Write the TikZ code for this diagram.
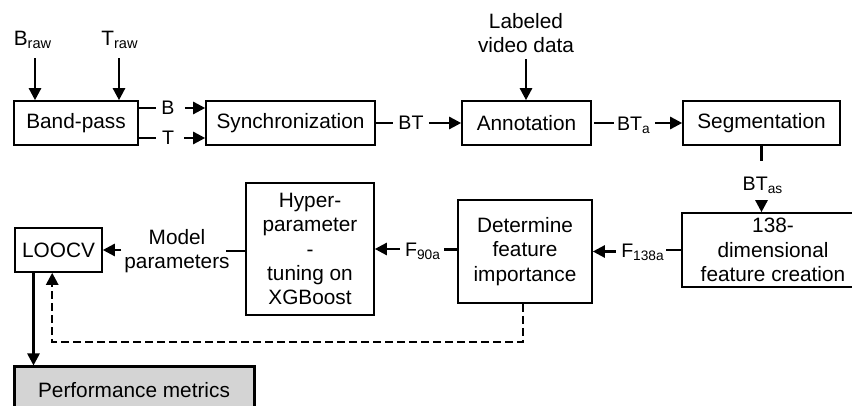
\documentclass[tikz,border=0pt]{standalone}
\usepackage{fontspec}
\setmainfont{Liberation Sans}
\usetikzlibrary{arrows.meta}
\begin{document}
\begin{tikzpicture}[x=0.5pt,y=-0.5pt,
  font=\fontsize{10.4}{12.2}\selectfont,
  box/.style={draw, line width=0.8pt, align=center, inner sep=0pt, minimum height=22pt},
  lbl/.style={inner sep=0pt, align=center},
  small/.style={lbl, font=\fontsize{9.8}{11.5}\selectfont},
  conn/.style={line width=1.25pt},
  arr/.style={line width=1.25pt, -{Triangle[length=6pt,width=6pt]}},
  feedback/.style={line width=1.25pt, dash pattern=on 4pt off 2pt, -{Triangle[length=6pt,width=6pt]}}]
\useasboundingbox (0,0) rectangle (852,406);
\clip (0,0) rectangle (852,406);

% processing chain, top row
\node[box, minimum width=62pt] (bp) at (76,123) {Band-pass};
\node[box, minimum width=84.5pt] (sync) at (290.5,123) {Synchronization};
\node[box, minimum width=64.5pt] (ann) at (526.5,123) {Annotation};
\node[box, minimum width=78.5pt] (seg) at (761.5,123) {Segmentation};

% inputs
\node[lbl] (braw) at (33,40) {B\textsubscript{raw}};
\node[lbl] (traw) at (120,40) {T\textsubscript{raw}};
\node[lbl] (video) at (526,33) {Labeled\\video data};
\draw[arr] (braw.south) ++(2,9) coordinate (bin) -- (bin |- bp.north);
\draw[arr] (traw.south) ++(-1,9) coordinate (tin) -- (tin |- bp.north);
\draw[arr] (video.south) ++(0,6) coordinate (vin) -- (vin |- ann.north);

% B and T channels
\node[small] (lb) at (168,108) {B};
\node[small] (lt) at (168,138) {T};
\draw[conn] (bp.east |- lb) -- ++(17,0);
\draw[arr] (lb.east) ++(10,0) -- (sync.west |- lb);
\draw[conn] (bp.east |- lt) -- ++(17,0);
\draw[arr] (lt.east) ++(10,0) -- (sync.west |- lt);

% BT
\node[small] (lbt) at (411,123) {BT};
\draw[conn] (sync.east) -- ++(17,0);
\draw[arr] (lbt.east) ++(5,0) -- (ann.west);

% BT_a
\node[small] (lbta) at (634,125) {BT\textsubscript{a}};
\draw[conn] (ann.east) ++(2,0) -- ++(20,0);
\draw[arr] (lbta.east) ++(4,-2) -- (seg.west);

% bottom row
\node[box, minimum width=91pt, minimum height=37pt] (feat) at (773,250) {138-\\dimensional\\feature creation};
\node[box, minimum width=67pt, minimum height=51.5pt] (det) at (525,251.5) {Determine\\feature\\importance};
\node[box, minimum width=64pt, minimum height=66pt] (hyp) at (310,249) {Hyper-\\parameter\\-\\tuning on\\XGBoost};
\node[box, minimum width=43.5pt] (loocv) at (58.5,250) {LOOCV};
\node[box, line width=1.5pt, fill=black!17, minimum width=120pt, minimum height=23pt] (perf) at (134,390) {Performance metrics};

% BT_as
\node[small] (lbtas) at (763,185) {BT\textsubscript{as}};
\draw[conn] (seg.south) -- ++(0,15);
\draw[arr] (seg.south |- lbtas.south) ++(0,8) -- (seg.south |- feat.north);

% F_138a
\node[small] (lf138) at (643,252) {F\textsubscript{138a}};
\draw[conn] (feat.west) -- ++(-15,0);
\draw[arr] (lf138.west |- det.east) ++(-5,0) -- (det.east);

% F_90a
\node[small] (lf90) at (423,251) {F\textsubscript{90a}};
\draw[conn] (det.west) ++(0,-2) -- ++(-13,0);
\draw[arr] (lf90.west |- hyp.east) ++(-5,0) -- (hyp.east);

% model parameters
\node[lbl] (lmp) at (177,251) {Model\\parameters};
\draw[conn] (hyp.west) ++(0,2) -- ++(-19,0);
\draw[arr] (lmp.west |- loocv.east) ++(-3,0) -- (loocv.east);

% LOOCV to metrics, feedback from feature importance
\draw[arr] (loocv.south -| perf.west) ++(21,0) coordinate (pm) -- (pm |- perf.north);
\draw[feedback] (det.south) ++(-2,0) coordinate (fb) -- (fb |- 0,342) -| ([xshift=19pt]loocv.south west);
\end{tikzpicture}
\end{document}
